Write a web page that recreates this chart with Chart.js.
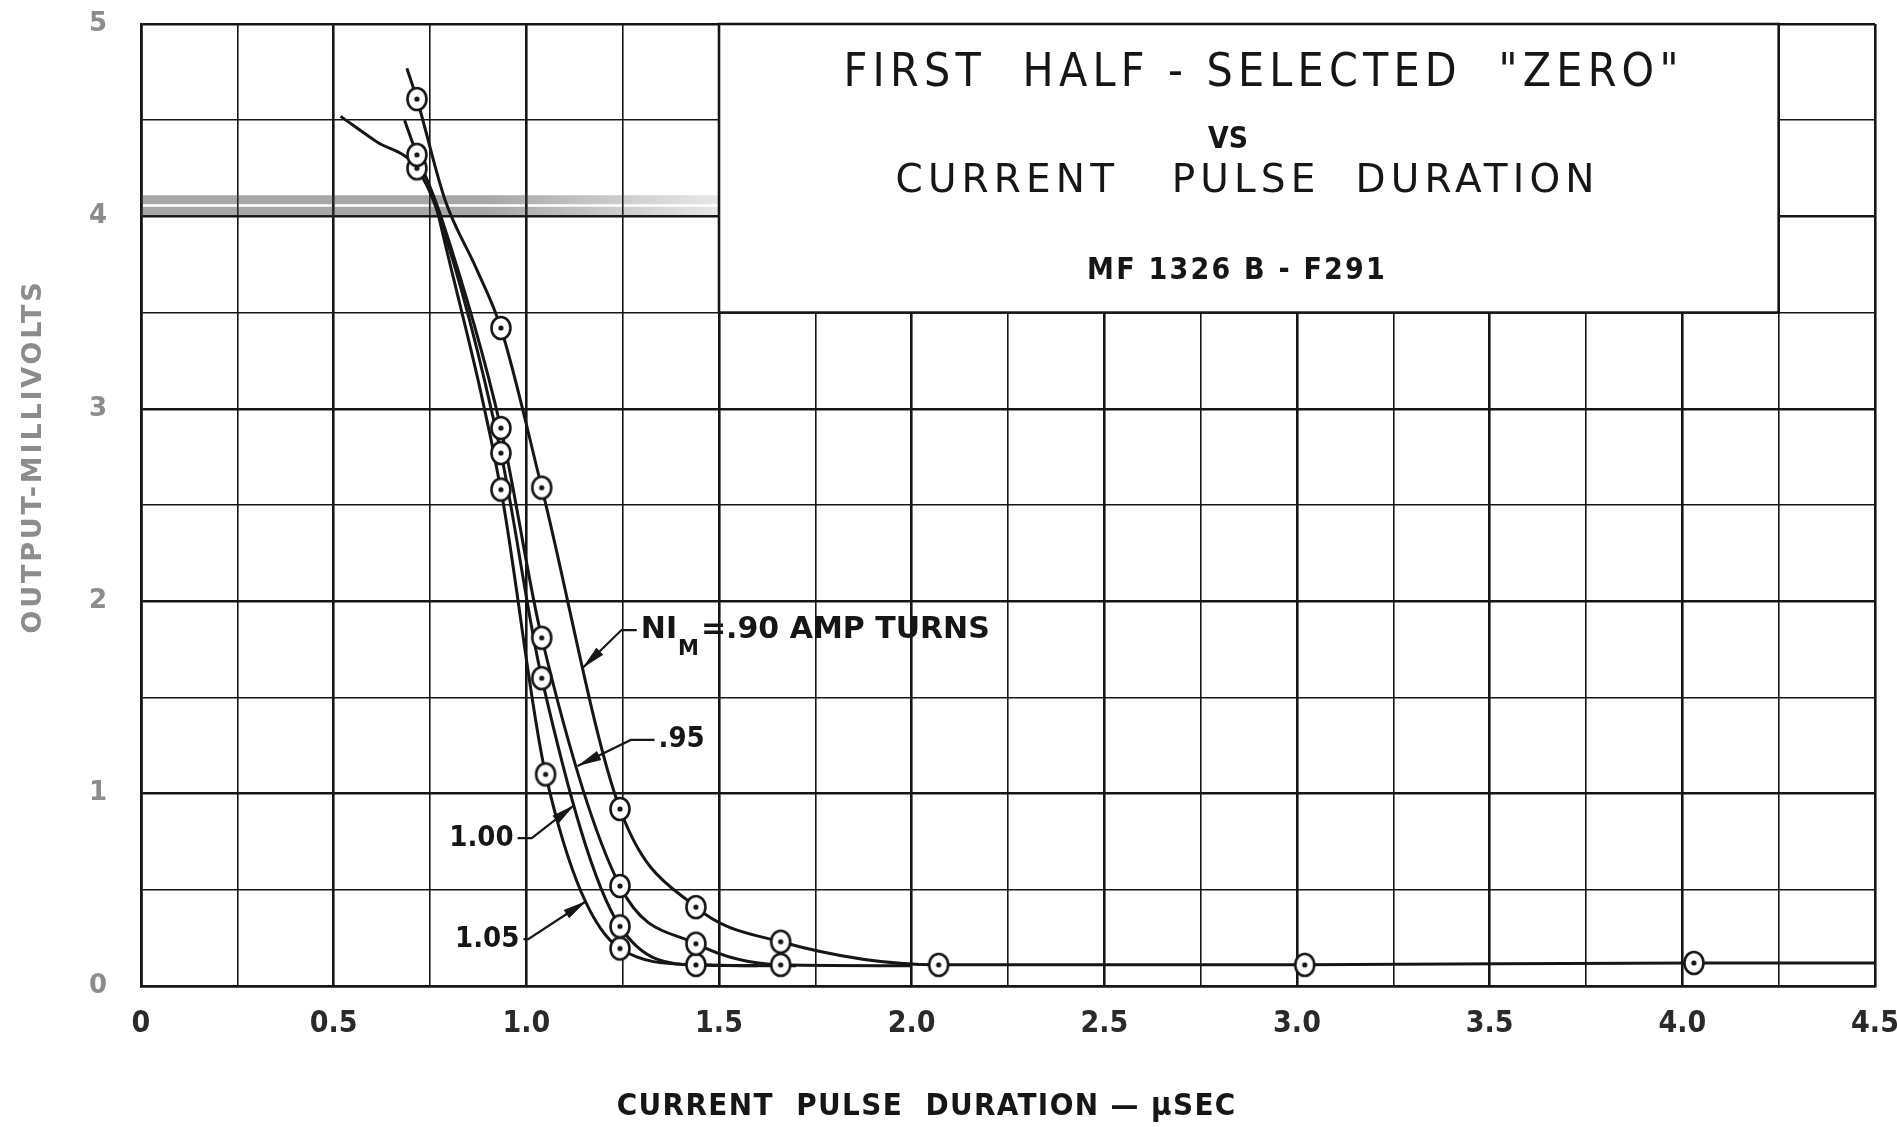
<!DOCTYPE html>
<html>
<head>
<meta charset="utf-8">
<title>First half-selected "zero" vs current pulse duration</title>
<script src="https://cdn.jsdelivr.net/npm/chart.js@4.4.1/dist/chart.umd.min.js"></script>
<style>
  html, body { margin: 0; padding: 0; background: #fff; }
  canvas { display: block; }
</style>
</head>
<body>
<canvas id="chart" width="1897" height="1127"></canvas>
<script>
// x = current pulse duration (usec), y = output (millivolts)
// NI_M = .90 amp turns
var curve90X = [0.69, 0.716, 0.79, 0.87, 0.934, 1.04, 1.243, 1.44, 1.66, 2.07, 3.02, 4.03, 4.5];
var curve90Y = [4.77, 4.61, 4.08, 3.73, 3.42, 2.59, 0.92, 0.41, 0.23, 0.11, 0.11, 0.12, 0.12];
var circled90 = [1, 4, 5, 6, 7, 8, 9, 10, 11];
// .95
var curve95X = [0.684, 0.716, 0.775, 0.934, 1.04, 1.243, 1.44, 1.66, 2.0];
var curve95Y = [4.50, 4.32, 4.02, 2.90, 1.81, 0.52, 0.22, 0.11, 0.105];
var circled95 = [1, 3, 4, 5, 6, 7];
// 1.00
var curve100X = [0.518, 0.61, 0.716, 0.772, 0.934, 1.04, 1.243, 1.44, 1.7];
var curve100Y = [4.52, 4.39, 4.25, 4.01, 2.77, 1.60, 0.31, 0.11, 0.105];
var circled100 = [2, 4, 5, 6, 7];
// 1.05
var curve105X = [0.768, 0.934, 1.05, 1.243, 1.44, 1.6];
var curve105Y = [4.04, 2.58, 1.10, 0.195, 0.11, 0.105];
var circled105 = [1, 2, 3];

var xTickLabels = ['0', '0.5', '1.0', '1.5', '2.0', '2.5', '3.0', '3.5', '4.0', '4.5'];
var yTickLabels = ['0', '1', '2', '3', '4', '5'];

var INK = '#161616';

function pointsOf(xs, ys) {
  return xs.map(function (x, i) { return { x: x, y: ys[i] }; });
}
function circledOf(xs, ys, idx) {
  return idx.map(function (i) { return { x: xs[i], y: ys[i] }; });
}

// the circled-dot marker used on the plot
function ringDot() {
  var c = document.createElement('canvas');
  c.width = 26; c.height = 28;
  var g = c.getContext('2d');
  g.beginPath();
  g.ellipse(13, 14, 9.5, 11, 0, 0, Math.PI * 2);
  g.fillStyle = '#fff';
  g.fill();
  g.lineWidth = 2.6;
  g.strokeStyle = INK;
  g.stroke();
  g.beginPath();
  g.arc(13, 14, 2.6, 0, Math.PI * 2);
  g.fillStyle = INK;
  g.fill();
  return c;
}
var marker = ringDot();

function curveSet(xs, ys) {
  return {
    data: pointsOf(xs, ys),
    borderColor: INK,
    borderWidth: 3,
    pointRadius: 0,
    cubicInterpolationMode: 'monotone',
    fill: false,
    order: 2
  };
}
function markerSet(xs, ys, idx) {
  return {
    data: circledOf(xs, ys, idx),
    showLine: false,
    pointStyle: marker,
    pointRadius: 10,
    order: 1
  };
}

function isStep(v, step) {
  return Math.abs(v / step - Math.round(v / step)) < 1e-6;
}

// centred text stretched to a given width by spacing the letters out
function spacedText(ctx, text, cx, cy, font, width) {
  ctx.save();
  ctx.font = font;
  ctx.textAlign = 'center';
  ctx.textBaseline = 'middle';
  var w = ctx.measureText(text).width;
  if (w < width && 'letterSpacing' in ctx) {
    ctx.letterSpacing = ((width - w) / text.length) + 'px';
    ctx.fillText(text, cx + (width - w) / text.length / 2, cy);
  } else {
    ctx.translate(cx, cy);
    ctx.scale(width / w, 1);
    ctx.fillText(text, 0, 0);
  }
  ctx.restore();
}

// leader lines for the curve labels (positions in axis units)
var callouts = [
  { text: '.95', tx: 1.343, ty: 1.279, side: 'left', bendX: 1.271, tipX: 1.133, tipY: 1.143 },
  { text: '1.00', tx: 0.967, ty: 0.769, side: 'right', bendX: 1.014, tipX: 1.125, tipY: 0.941 },
  { text: '1.05', tx: 0.982, ty: 0.244, side: 'right', bendX: 1.005, tipX: 1.156, tipY: 0.442 }
];
var niCallout = { tx: 1.297, ty: 1.85, bendX: 1.247, tipX: 1.146, tipY: 1.653 };

function leader(ctx, x0, y0, bx, tx, ty) {
  ctx.beginPath();
  ctx.moveTo(x0, y0);
  ctx.lineTo(bx, y0);
  ctx.lineTo(tx, ty);
  ctx.lineWidth = 2.2;
  ctx.strokeStyle = INK;
  ctx.stroke();
  var a = Math.atan2(ty - y0, tx - bx);
  ctx.save();
  ctx.translate(tx, ty);
  ctx.rotate(a);
  ctx.beginPath();
  ctx.moveTo(0, 0);
  ctx.lineTo(-24, -5);
  ctx.lineTo(-24, 5);
  ctx.closePath();
  ctx.fillStyle = INK;
  ctx.fill();
  ctx.restore();
}

var paperPlugin = {
  id: 'paper',
  beforeDatasetsDraw: function (chart) {
    var ctx = chart.ctx, sx = chart.scales.x, sy = chart.scales.y;
    ctx.save();
    // smudge of the copy along the 4 mV line
    var l0 = sx.getPixelForValue(0), l1 = sx.getPixelForValue(1.5);
    var g = ctx.createLinearGradient(l0, 0, l1, 0);
    g.addColorStop(0, 'rgba(60,60,60,0.45)');
    g.addColorStop(0.6, 'rgba(60,60,60,0.45)');
    g.addColorStop(1, 'rgba(60,60,60,0.12)');
    ctx.fillStyle = g;
    ctx.fillRect(l0, sy.getPixelForValue(4.11), l1 - l0, 9);
    ctx.fillRect(l0, sy.getPixelForValue(4.05), l1 - l0, 9);

    // title panel
    var l = sx.getPixelForValue(1.5), r = sx.getPixelForValue(4.25);
    var t = sy.getPixelForValue(5), b = sy.getPixelForValue(3.5);
    ctx.fillStyle = '#fff';
    ctx.fillRect(l, t, r - l, b - t);
    ctx.strokeStyle = INK;
    ctx.lineWidth = 2.6;
    ctx.strokeRect(l, t, r - l, b - t);

    ctx.fillStyle = INK;
    var cond = "'DejaVu Sans Condensed', 'DejaVu Sans', sans-serif";
    spacedText(ctx, 'FIRST  HALF - SELECTED  "ZERO"', l + 542, t + 50, '46px ' + cond, 840);
    spacedText(ctx, 'VS', l + 509, t + 116, 'bold 30px ' + cond, 40);
    spacedText(ctx, 'CURRENT   PULSE  DURATION', l + 526, t + 158, "39px 'DejaVu Sans', sans-serif", 704);
    spacedText(ctx, 'MF 1326 B - F291', l + 517, t + 247, 'bold 30px ' + cond, 300);
    ctx.restore();
  },
  afterDatasetsDraw: function (chart) {
    var ctx = chart.ctx, sx = chart.scales.x, sy = chart.scales.y;
    ctx.save();
    ctx.fillStyle = INK;
    ctx.textBaseline = 'middle';
    ctx.font = "bold 29px 'DejaVu Sans Condensed', 'DejaVu Sans', sans-serif";
    callouts.forEach(function (c) {
      var px = sx.getPixelForValue(c.tx), py = sy.getPixelForValue(c.ty);
      ctx.textAlign = c.side;
      ctx.fillText(c.text, px, py);
      var start = c.side === 'left' ? px - 4 : px + 4;
      leader(ctx, start, py, sx.getPixelForValue(c.bendX),
        sx.getPixelForValue(c.tipX), sy.getPixelForValue(c.tipY));
    });

    // NI_M = .90 AMP TURNS
    var font = "bold 30px 'DejaVu Sans', sans-serif";
    var nx = sx.getPixelForValue(niCallout.tx), ny = sy.getPixelForValue(niCallout.ty);
    ctx.textAlign = 'left';
    ctx.font = font;
    ctx.fillText('NI', nx, ny);
    var w1 = ctx.measureText('NI').width;
    ctx.font = "bold 21px 'DejaVu Sans', sans-serif";
    ctx.fillText('M', nx + w1 + 1, ny + 19);
    var w2 = ctx.measureText('M').width;
    ctx.font = font;
    ctx.fillText('=.90 AMP TURNS', nx + w1 + w2 + 3, ny);
    leader(ctx, nx - 4, ny, sx.getPixelForValue(niCallout.bendX),
      sx.getPixelForValue(niCallout.tipX), sy.getPixelForValue(niCallout.tipY));
    ctx.restore();
  },
  afterDraw: function (chart) {
    var ctx = chart.ctx;
    ctx.save();
    // axis titles
    ctx.fillStyle = '#8c8c8c';
    ctx.save();
    ctx.translate(34, 458);
    ctx.rotate(-Math.PI / 2);
    spacedText(ctx, 'OUTPUT-MILLIVOLTS', 0, 0, "bold 27px 'DejaVu Sans', sans-serif", 354);
    ctx.restore();
    ctx.fillStyle = INK;
    spacedText(ctx, 'CURRENT  PULSE  DURATION \u2014 \u03bcSEC', 926, 1107,
      "bold 31px 'DejaVu Sans Condensed', 'DejaVu Sans', sans-serif", 620);
    ctx.restore();
  }
};

var ctx = document.getElementById('chart').getContext('2d');
var chart = new Chart(ctx, {
  type: 'line',
  data: {
    datasets: [
      curveSet(curve90X, curve90Y),
      curveSet(curve95X, curve95Y),
      curveSet(curve100X, curve100Y),
      curveSet(curve105X, curve105Y),
      markerSet(curve90X, curve90Y, circled90),
      markerSet(curve95X, curve95Y, circled95),
      markerSet(curve100X, curve100Y, circled100),
      markerSet(curve105X, curve105Y, circled105)
    ]
  },
  plugins: [paperPlugin],
  options: {
    responsive: false,
    animation: false,
    devicePixelRatio: 1,
    layout: { padding: { top: 24, right: 22, left: 0, bottom: 0 } },
    plugins: {
      legend: { display: false },
      tooltip: { enabled: false }
    },
    scales: {
      x: {
        type: 'linear',
        min: 0,
        max: 4.5,
        afterFit: function (s) {
          s.height = 141;
          s.paddingLeft = 0;
          s.paddingRight = 0;
        },
        ticks: {
          stepSize: 0.25,
          autoSkip: false,
          maxRotation: 0,
          padding: 20,
          color: '#2a2a2a',
          font: { family: "'DejaVu Sans Condensed', 'DejaVu Sans', sans-serif", size: 30, weight: 'bold' },
          callback: function (v) {
            return isStep(v, 0.5) ? xTickLabels[Math.round(v / 0.5)] : '';
          }
        },
        grid: {
          drawTicks: false,
          color: INK,
          lineWidth: function (c) { return c.tick && isStep(c.tick.value, 0.5) ? 2.6 : 1.6; }
        },
        border: { display: true, color: INK, width: 2.6 }
      },
      y: {
        min: 0,
        max: 5,
        afterFit: function (s) {
          s.width = 141;
          s.paddingTop = 0;
          s.paddingBottom = 0;
        },
        ticks: {
          stepSize: 0.5,
          autoSkip: false,
          padding: 34,
          color: '#8c8c8c',
          font: { family: "'DejaVu Sans', sans-serif", size: 26, weight: 'bold' },
          callback: function (v) {
            return isStep(v, 1) ? yTickLabels[Math.round(v)] : '';
          }
        },
        grid: {
          drawTicks: false,
          color: INK,
          lineWidth: function (c) { return c.tick && isStep(c.tick.value, 1) ? 2.6 : 1.6; }
        },
        border: { display: true, color: INK, width: 2.6 }
      }
    }
  }
});
</script>
</body>
</html>
